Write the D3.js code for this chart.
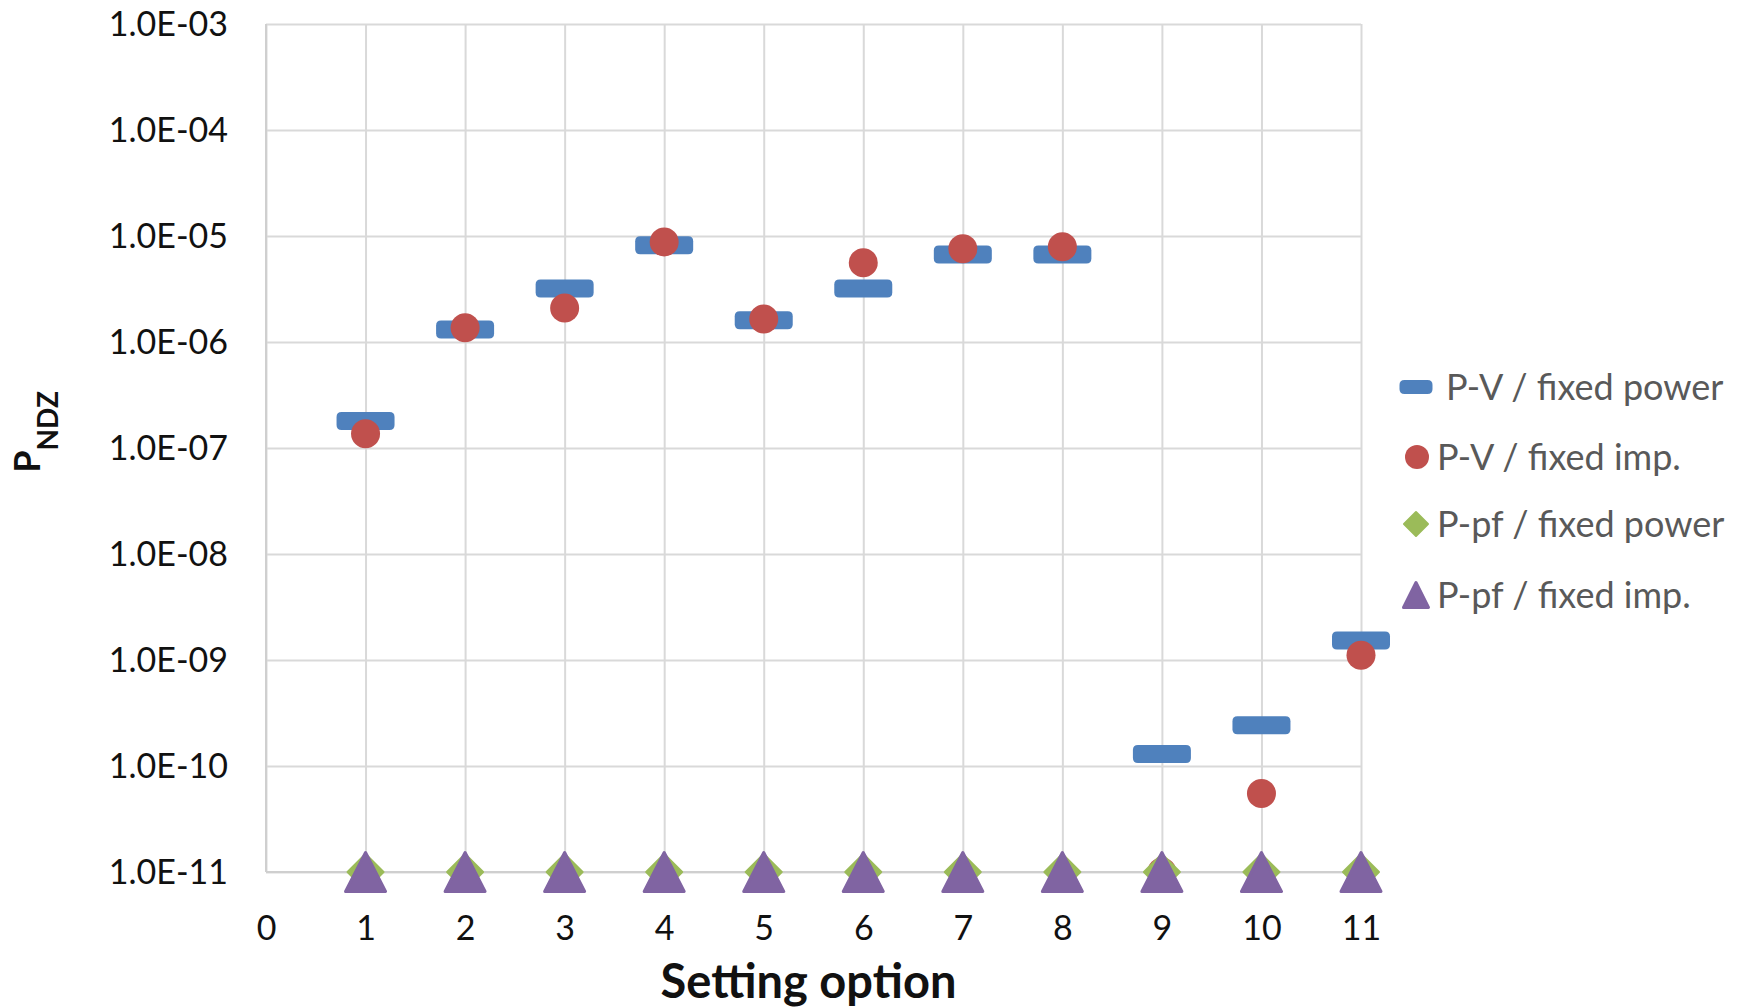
<!DOCTYPE html>
<html>
<head>
<meta charset="utf-8">
<script src="https://cdn.jsdelivr.net/npm/d3@7"></script>
<style>
  html, body { margin: 0; padding: 0; background: #fff; }
  svg { display: block; }
</style>
</head>
<body>
<svg id="chart" width="1742" height="1008"></svg>
<script>
// ---- data ----
const categories = [1, 2, 3, 4, 5, 6, 7, 8, 9, 10, 11];
const pvFixedPower = [1.8e-7, 1.31e-6, 3.2e-6, 8.2e-6, 1.6e-6, 3.2e-6, 6.7e-6, 6.7e-6, 1.3e-10, 2.43e-10, 1.53e-9];
const pvFixedImp   = [1.36e-7, 1.36e-6, 2.09e-6, 8.8e-6, 1.65e-6, 5.6e-6, 7.6e-6, 7.9e-6, 1e-11, 5.5e-11, 1.11e-9];
const ppfFixedPower = [1e-11, 1e-11, 1e-11, 1e-11, 1e-11, 1e-11, 1e-11, 1e-11, 1e-11, 1e-11, 1e-11];
const ppfFixedImp   = [1e-11, 1e-11, 1e-11, 1e-11, 1e-11, 1e-11, 1e-11, 1e-11, 1e-11, 1e-11, 1e-11];
const seriesNames = ["P-V / fixed power", "P-V / fixed imp.", "P-pf / fixed power", "P-pf / fixed imp."];
const yTickValues = [1e-3, 1e-4, 1e-5, 1e-6, 1e-7, 1e-8, 1e-9, 1e-10, 1e-11];
const yTickLabels = ["1.0E-03", "1.0E-04", "1.0E-05", "1.0E-06", "1.0E-07", "1.0E-08", "1.0E-09", "1.0E-10", "1.0E-11"];
const xTickValues = [0, 1, 2, 3, 4, 5, 6, 7, 8, 9, 10, 11];

// ---- layout ----
const svg = d3.select("#chart");
const L = 266, R = 1361, T = 24, B = 872;
const FONT = "Lato, 'Open Sans', sans-serif";
const colors = ["#4F81BD", "#C0504D", "#9BBB59", "#8064A2"];
const gridColor = "#D9D9D9";

const x = d3.scaleLinear().domain([0, 11]).range([L, R]);
const y = d3.scaleLog().domain([1e-11, 1e-3]).range([B, T]);

// horizontal gridlines + y labels
const yAxis = svg.append("g").attr("transform", `translate(${L},0)`)
  .call(d3.axisLeft(y).tickValues(yTickValues)
    .tickFormat((d, i) => yTickLabels[i])
    .tickSize(-(R - L)).tickPadding(38));
yAxis.select(".domain").remove();
yAxis.selectAll(".tick line").attr("stroke", gridColor).attr("stroke-width", 2);
yAxis.selectAll(".tick text").attr("font-family", FONT).attr("font-size", 34)
  .attr("fill", "#111").attr("dy", "0.35em");

// vertical gridlines + x labels
const xAxis = svg.append("g").attr("transform", `translate(0,${B})`)
  .call(d3.axisBottom(x).tickValues(xTickValues).tickFormat(d3.format("d"))
    .tickSize(-(B - T)).tickPadding(44));
xAxis.select(".domain").remove();
xAxis.selectAll(".tick line").attr("stroke", gridColor).attr("stroke-width", 2);
xAxis.selectAll(".tick text").attr("font-family", FONT).attr("font-size", 34)
  .attr("fill", "#111");

// axis lines
svg.append("line").attr("x1", L).attr("x2", L).attr("y1", T).attr("y2", B)
  .attr("stroke", "#CFCFCF").attr("stroke-width", 2);
svg.append("line").attr("x1", L).attr("x2", R).attr("y1", B).attr("y2", B)
  .attr("stroke", "#CFCFCF").attr("stroke-width", 2);

// ---- marker shapes ----
function dashPath(w, h, r) {
  const p = d3.path();
  p.moveTo(-w / 2 + r, -h / 2);
  p.lineTo(w / 2 - r, -h / 2);
  p.quadraticCurveTo(w / 2, -h / 2, w / 2, -h / 2 + r);
  p.lineTo(w / 2, h / 2 - r);
  p.quadraticCurveTo(w / 2, h / 2, w / 2 - r, h / 2);
  p.lineTo(-w / 2 + r, h / 2);
  p.quadraticCurveTo(-w / 2, h / 2, -w / 2, h / 2 - r);
  p.lineTo(-w / 2, -h / 2 + r);
  p.quadraticCurveTo(-w / 2, -h / 2, -w / 2 + r, -h / 2);
  p.closePath();
  return p.toString();
}
function diamondPath(s) { return `M0,${-s}L${s},0L0,${s}L${-s},0Z`; }
function trianglePath(w, h) { return `M0,${-h / 2}L${w / 2},${h / 2}L${-w / 2},${h / 2}Z`; }

const shapes = [
  { d: dashPath(58, 18, 5), stroke: 0 },
  { d: d3.symbol(d3.symbolCircle, Math.PI * 14.5 * 14.5)(), stroke: 0 },
  { d: diamondPath(18), stroke: 2 },
  { d: trianglePath(40, 39), stroke: 3 }
];
const legendShapes = [
  { d: dashPath(33, 14, 5), stroke: 0 },
  { d: d3.symbol(d3.symbolCircle, Math.PI * 12 * 12)(), stroke: 0 },
  { d: diamondPath(12), stroke: 2 },
  { d: trianglePath(25, 25), stroke: 3 }
];

// ---- series ----
const allSeries = [pvFixedPower, pvFixedImp, ppfFixedPower, ppfFixedImp];
allSeries.forEach((vals, si) => {
  svg.append("g").selectAll("path")
    .data(categories.map((c, i) => ({ c, v: vals[i] })))
    .join("path")
    .attr("transform", d => `translate(${x(d.c)},${y(d.v)})`)
    .attr("d", shapes[si].d)
    .attr("fill", colors[si])
    .attr("stroke", colors[si])
    .attr("stroke-width", shapes[si].stroke)
    .attr("stroke-linejoin", "round");
});

// ---- legend ----
const legendRows = [387, 457, 524, 595];
const legendMarkX = [1416, 1417, 1416, 1416];
const legendTextX = [1446, 1437, 1437, 1437];
seriesNames.forEach((name, i) => {
  svg.append("path")
    .attr("transform", `translate(${legendMarkX[i]},${legendRows[i]})`)
    .attr("d", legendShapes[i].d)
    .attr("fill", colors[i]).attr("stroke", colors[i])
    .attr("stroke-width", legendShapes[i].stroke).attr("stroke-linejoin", "round");
  svg.append("text")
    .attr("x", legendTextX[i]).attr("y", legendRows[i]).attr("dy", "0.35em")
    .attr("font-family", FONT).attr("font-size", 36).attr("fill", "#595959")
    .text(name);
});

// ---- axis titles ----
svg.append("text")
  .attr("x", (L + R) / 2 - 5).attr("y", 998)
  .attr("text-anchor", "middle")
  .attr("font-family", FONT).attr("font-weight", "bold").attr("font-size", 47)
  .attr("fill", "#111")
  .text("Setting option");

const yt = svg.append("text")
  .attr("transform", `translate(40,${432}) rotate(-90)`)
  .attr("text-anchor", "middle")
  .attr("font-family", FONT).attr("font-weight", "bold").attr("fill", "#111");
yt.append("tspan").attr("font-size", 36).text("P");
yt.append("tspan").attr("font-size", 28).attr("dy", 18).text("NDZ");
</script>
</body>
</html>
